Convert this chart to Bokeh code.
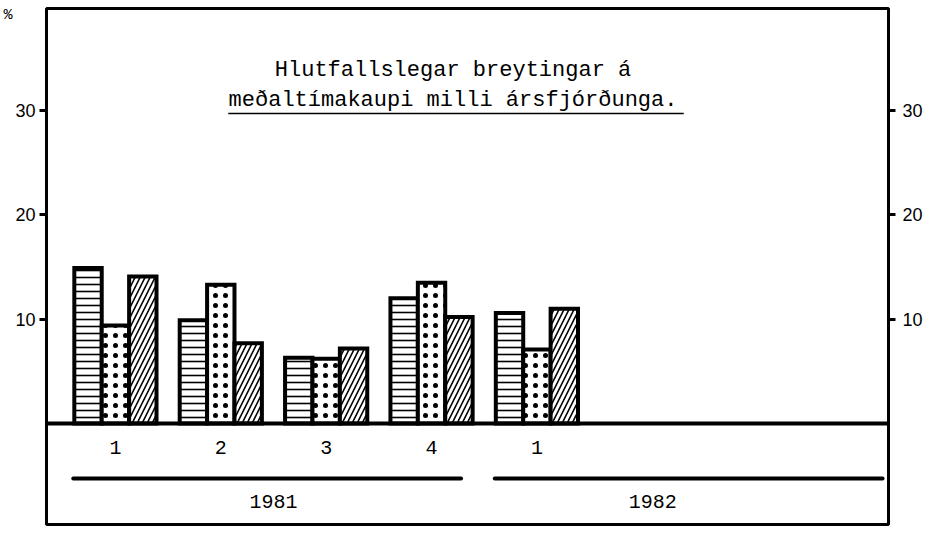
from bokeh.plotting import figure
from bokeh.models import Range1d, LinearAxis, FixedTicker, Span, ColumnDataSource
from bokeh.core.properties import value
from bokeh.embed import file_html
from bokeh.resources import INLINE

# ---------------- data ----------------
quarter_labels = ["1", "2", "3", "4", "1"]
years = ["1981", "1982"]
series_hlines = [14.9, 9.9, 6.3, 12.0, 10.6]   # horizontally hatched bars
series_dots = [9.4, 13.3, 6.2, 13.5, 7.1]      # dotted bars
series_diag = [14.1, 7.7, 7.2, 10.2, 11.0]     # diagonally hatched bars
y_ticks = [10, 20, 30]
title_lines = ["Hlutfallslegar breytingar á", "meðaltímakaupi milli ársfjórðunga."]
unit_label = "%"

# ---------------- layout ----------------
PX_X = 105.5      # pixels per quarter
X1_PAGE = 114.0   # x of first quarter
FRAME_L, FRAME_R = 45.0, 888.0
FRAME_T, FRAME_B = 8.0, 524.0
ZERO_PAGE = 423.0
PX_Y = 10.43      # pixels per percent

def dx(px):
    return 1 + (px - X1_PAGE) / PX_X

def dy(py):
    return (ZERO_PAGE - py) / PX_Y

x_start, x_end = dx(FRAME_L), dx(FRAME_R)
y_start, y_end = dy(FRAME_B), dy(FRAME_T)

W = 930
H = int(FRAME_B) + 2
BORDER_L = int(FRAME_L)
BORDER_T = int(FRAME_T)
BORDER_R = W - int(FRAME_R)

MONO = value("Liberation Mono")

p = figure(width=W, height=H,
           x_range=Range1d(x_start, x_end), y_range=Range1d(y_start, y_end),
           x_axis_type=None, y_axis_type=None,
           output_backend="svg", toolbar_location=None,
           min_border_left=BORDER_L, min_border_right=BORDER_R,
           min_border_top=BORDER_T, min_border_bottom=2)
p.outline_line_color = "black"
p.outline_line_width = 3
p.background_fill_color = "white"
p.border_fill_color = "white"

for loc in ("left", "right"):
    ax = LinearAxis(ticker=FixedTicker(ticks=y_ticks))
    ax.axis_line_color = None
    ax.major_tick_out = 7
    ax.major_tick_in = 0
    ax.minor_tick_out = 0
    ax.minor_tick_in = 0
    ax.major_tick_line_width = 3
    ax.major_tick_line_color = "black"
    ax.minor_tick_line_color = None
    ax.major_label_text_font = "Liberation Sans"
    ax.major_label_text_font_size = "18px"
    ax.major_label_text_color = "black"
    ax.major_label_standoff = 4 if loc == "left" else 7
    p.add_layout(ax, loc)

# unit label "%" as an extra, tick-less axis at the top left
unit_pos = dy(15)
uax = LinearAxis(ticker=FixedTicker(ticks=[unit_pos]),
                 major_label_overrides={unit_pos: unit_label})
uax.axis_line_color = None
uax.major_tick_line_color = None
uax.minor_tick_line_color = None
uax.major_tick_out = 0
uax.major_tick_in = 0
uax.minor_tick_out = 0
uax.minor_tick_in = 0
uax.major_label_standoff = 0
uax.major_label_text_font = "Liberation Mono"
uax.major_label_text_font_size = "15px"
uax.major_label_text_color = "black"
p.add_layout(uax, "left")

positions = list(range(1, len(quarter_labels) + 1))
BW = 0.26
src = ColumnDataSource(dict(
    xa=[q - BW for q in positions], xb=positions, xc=[q + BW for q in positions],
    a=series_hlines, b=series_dots, c=series_diag))

common = dict(width=BW, bottom=0, source=src, fill_color="white",
              line_color="black", line_width=4, line_join="miter",
              hatch_color="black")
p.vbar(x="xa", top="a", hatch_pattern="horizontal_line", hatch_scale=7, hatch_weight=1.6, **common)
p.vbar(x="xb", top="b", hatch_pattern="dot", hatch_scale=10, hatch_weight=2.2, **common)
p.vbar(x="xc", top="c", hatch_pattern="right_diagonal_line", hatch_scale=10, hatch_weight=1.6, **common)

p.add_layout(Span(location=0, dimension="width", line_color="black", line_width=4))

# quarter labels
p.text(x=positions, y=[dy(447)] * len(positions), text=quarter_labels,
       text_align="center", text_baseline="middle", text_font=MONO,
       text_font_size="20px", text_color="black")

# year lines and labels
yl_x0 = [4 * k + 1 - 0.4 for k in range(len(years))]
yl_x1 = [4 * k + 4 + 0.28 for k in range(len(years))]
p.segment(x0=yl_x0, y0=[dy(478)] * len(years), x1=yl_x1, y1=[dy(478)] * len(years),
          line_color="black", line_width=4, line_cap="round")
year_label_x = [2.5, 6.1]
p.text(x=year_label_x, y=[dy(501)] * len(years), text=years,
       text_align="center", text_baseline="middle", text_font=MONO,
       text_font_size="20px", text_color="black")

# title inside frame
p.text(x=[dx(452)] * 2, y=[dy(70), dy(100)], text=title_lines,
       text_align="center", text_baseline="middle", text_font=MONO,
       text_font_size="22px", text_color="black")
p.segment(x0=[dx(227)], y0=[dy(113)], x1=[dx(683)], y1=[dy(113)],
          line_color="black", line_width=1.5)

open("out.html", "w").write(file_html(p, INLINE))
